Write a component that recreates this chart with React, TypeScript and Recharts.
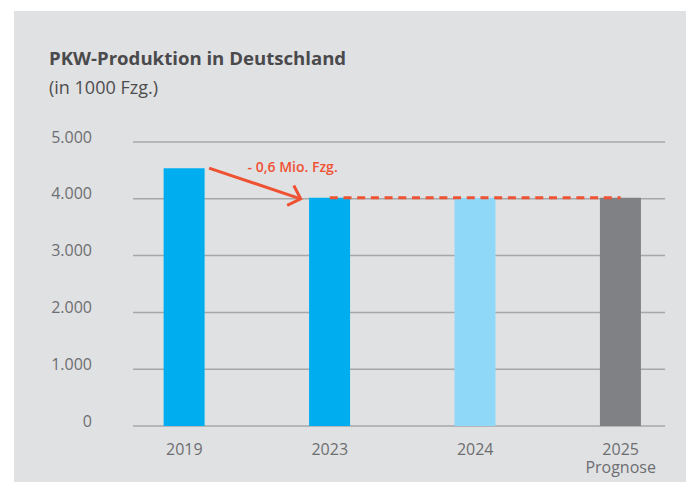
import { BarChart, Bar, XAxis, YAxis, CartesianGrid, Cell, ReferenceLine } from "recharts";

const years = ["2019", "2023", "2024", "2025"];
const subLabels = ["", "", "", "Prognose"];
const production = [4540, 4020, 4020, 4020];
const yTicks = [0, 1000, 2000, 3000, 4000, 5000];
const changeLabel = "- 0,6 Mio. Fzg.";

const barColors = ["#00aeef", "#00aeef", "#8fd8f8", "#808184"];
const red = "#ef5233";
const font = "'Open Sans', sans-serif";

const data = years.map((year, i) => ({ idx: i, year, value: production[i] }));

const fmt = (v: number) => String(v).replace(/\B(?=(\d{3})+(?!\d))/g, ".");

const YearTick = (props: any) => {
  const { x, y, payload } = props;
  const i = payload.value;
  return (
    <text x={x} y={y} textAnchor="middle" fill="#6d6e71" fontSize={16} fontFamily={font}>
      <tspan x={x} dy={28.6}>{years[i]}</tspan>
      {subLabels[i] && <tspan x={x} dy={18}>{subLabels[i]}</tspan>}
    </text>
  );
};

const Arrow = (props: any) => {
  const { x1, y1, x2, y2 } = props;
  const ang = Math.atan2(y2 - y1, x2 - x1) + Math.PI;
  const len = 15;
  const head = [ang - 0.77, ang + 0.77].map((a) => [x2 + len * Math.cos(a), y2 + len * Math.sin(a)]);
  return (
    <g>
      <line x1={x1} y1={y1} x2={x2} y2={y2} stroke={red} strokeWidth={3} />
      <polyline
        points={`${head[0][0]},${head[0][1]} ${x2},${y2} ${head[1][0]},${head[1][1]}`}
        fill="none"
        stroke={red}
        strokeWidth={3}
      />
      <text x={x1 + 38.5} y={y1 + 4} fill={red} fontSize={14} fontWeight={600} fontFamily={font}>
        {changeLabel}
      </text>
    </g>
  );
};

export default function App() {
  return (
    <div style={{ position: "absolute", left: 0, top: 0, width: 686, height: 483, background: "#fff" }}>
      <div style={{ position: "absolute", left: 14, top: 11, width: 672, height: 471, background: "#e0e1e3" }} />
      <div
        style={{
          position: "absolute",
          left: 49,
          top: 49,
          fontFamily: font,
          fontWeight: 700,
          fontSize: 18.6,
          lineHeight: "18px",
          color: "#4a4a4c",
          whiteSpace: "nowrap",
        }}
      >
        PKW-Produktion in Deutschland
      </div>
      <div
        style={{
          position: "absolute",
          left: 49,
          top: 78,
          fontFamily: font,
          fontSize: 18,
          lineHeight: "18px",
          color: "#4d4d4f",
          whiteSpace: "nowrap",
        }}
      >
        (in 1000 Fzg.)
      </div>
      <div style={{ position: "absolute", left: 0, top: 0 }}>
        <BarChart width={686} height={483} data={data} margin={{ top: 142, right: 21, left: 73, bottom: 12 }}>
          <CartesianGrid vertical={false} stroke="#a6a7a9" strokeWidth={1.5} />
          <XAxis
            dataKey="idx"
            type="number"
            domain={[-0.353, 3.305]}
            ticks={[0, 1, 2, 3]}
            axisLine={false}
            tickLine={false}
            tickSize={0}
            tickMargin={0}
            height={45}
            tick={<YearTick />}
            interval={0}
          />
          <YAxis
            domain={[0, 5000]}
            ticks={yTicks}
            width={60}
            axisLine={false}
            tickLine={false}
            tickSize={0}
            tickMargin={41}
            tickFormatter={fmt}
            tick={{ fill: "#6d6e71", fontSize: 16, fontFamily: font, dy: -5 }}
          />
          <Bar dataKey="value" barSize={41} isAnimationActive={false}>
            {data.map((d, i) => (
              <Cell key={d.year} fill={barColors[i]} />
            ))}
          </Bar>
          <ReferenceLine
            segment={[
              { x: 1, y: production[1] },
              { x: 3, y: production[1] },
            ]}
            stroke={red}
            strokeWidth={3}
            strokeDasharray="8 5.7"
          />
          <ReferenceLine
            segment={[
              { x: 0.17, y: production[0] },
              { x: 0.8, y: 4000 },
            ]}
            shape={<Arrow />}
          />
        </BarChart>
      </div>
    </div>
  );
}
